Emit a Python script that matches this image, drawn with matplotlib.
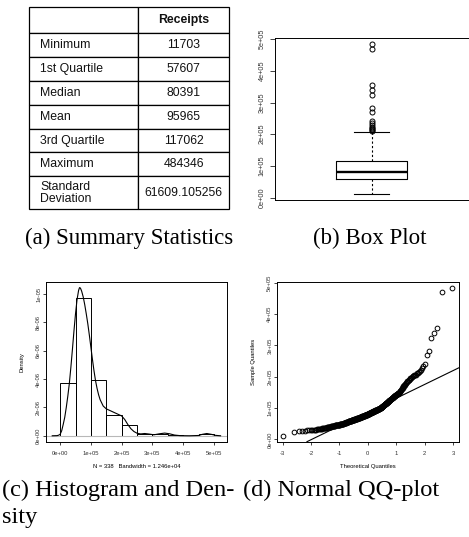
import numpy as np
import matplotlib
matplotlib.use("Agg")
import matplotlib.pyplot as plt
from matplotlib.table import Table
from statistics import NormalDist

plt.rcParams['font.family'] = ['Liberation Sans', 'DejaVu Sans']

# (a) summary table
stat_names = ["Minimum", "1st Quartile", "Median", "Mean", "3rd Quartile",
              "Maximum", "Standard\nDeviation"]
stat_values = ["11703", "57607", "80391", "95965", "117062", "484346",
               "61609.105256"]
q1, median, q3 = 57607, 80391, 117062
minimum = 11703
whisker_hi = 206000   # upper whisker end

receipts_k = [
    11.703, 24.6, 26.5, 27.5, 28.3, 29.0, 29.5, 30.0, 30.4, 30.8, 31.2, 31.5,
    32.0, 32.5, 33.0, 33.5, 34.0, 34.5, 35.0, 35.5, 36.0, 36.5, 37.0,
    37.4, 37.8, 38.2, 38.6, 39.0, 39.4, 39.8, 40.2, 40.6, 41.0, 41.4, 41.8,
    42.2, 42.6, 43.0, 43.4, 43.8,
    44.1, 44.4, 44.6, 44.9, 45.1, 45.4, 45.6, 45.9, 46.1, 46.4, 46.6, 46.9,
    47.1, 47.4, 47.6, 47.9, 48.1, 48.4, 48.6, 48.9, 49.1, 49.4, 49.8,
    50.1, 50.4, 50.8, 51.1, 51.5, 51.8, 52.2, 52.5, 52.9, 53.2, 53.6, 53.9,
    54.3, 54.6, 55.0, 55.3, 55.7, 56.0, 56.4, 56.7, 57.1, 57.5,
    57.9, 58.2, 58.4, 58.7, 59.0, 59.2, 59.5, 59.8, 60.0, 60.3,
    60.6, 60.9, 61.1, 61.4, 61.7, 61.9, 62.2, 62.5, 62.7, 63.0,
    63.3, 63.5, 63.8, 64.1, 64.3, 64.6, 64.9, 65.2, 65.4, 65.7,
    66.0, 66.2, 66.5, 66.8, 67.0, 67.3, 67.6, 67.8, 68.1, 68.4,
    68.6, 68.9, 69.2, 69.5, 69.7, 70.0, 70.3, 70.5, 70.8, 71.1,
    71.3, 71.6, 71.9, 72.1, 72.4, 72.7, 73.0, 73.2, 73.5, 73.8,
    74.0, 74.3, 74.6, 74.8, 75.1, 75.4, 75.6, 75.9, 76.2, 76.4,
    76.7, 77.0, 77.3, 77.5, 77.8, 78.1, 78.3, 78.6, 78.9, 79.1,
    79.4, 79.7, 79.9, 80.2,
    80.6, 80.9, 81.3, 81.6, 81.9, 82.3, 82.6, 83.0, 83.3, 83.6,
    84.0, 84.3, 84.6, 85.0, 85.3, 85.7, 86.0, 86.3, 86.7, 87.0,
    87.4, 87.7, 88.0, 88.4, 88.7, 89.0, 89.4, 89.7, 90.1, 90.4,
    90.7, 91.1, 91.4, 91.7, 92.1, 92.4, 92.8, 93.1, 93.4, 93.8,
    94.1, 94.5, 94.8, 95.1, 95.5, 95.8, 96.1, 96.5, 96.8, 97.2,
    97.5, 97.8, 98.2, 98.5, 98.8, 99.2, 99.5, 99.8,
    100.2, 100.9, 101.5, 102.2, 102.9, 103.5, 104.2, 104.9, 105.5, 106.2,
    106.8, 107.5, 108.2, 108.8, 109.5, 110.2, 110.8, 111.5, 112.2, 112.8,
    113.5, 114.1, 114.8, 115.5, 116.1, 116.8,
    117.2, 118.0, 118.9, 119.7, 120.5, 121.3, 122.2, 123.0, 123.8, 124.7,
    125.5, 126.3, 127.1, 128.0, 128.8, 129.6, 130.4, 131.3, 132.1, 132.9,
    133.8, 134.6, 135.4, 136.2, 137.1, 137.9, 138.7, 139.6, 140.4, 141.2,
    142.0, 142.9, 143.7, 144.5, 145.3, 146.2, 147.0, 147.8, 148.7, 149.5,
    151.0, 153.0, 155.0, 157.0, 159.0, 161.0, 163.0, 165.0, 167.0, 169.0,
    171.0, 173.0, 175.0, 177.0, 179.0, 181.0, 183.0, 185.0, 187.0, 189.0,
    191.0, 193.0, 195.0, 197.0, 199.0,
    201.5, 203.0, 204.0, 205.0, 206.0, 210.5, 213.0, 216.0, 219.0, 223.0,
    228.0, 234.0, 240.5,
    269.0, 282.0, 323.0, 340.0, 356.0, 469.0, 484.346,
]
hist_edges = [0, 50000, 100000, 150000, 200000, 250000, 300000, 350000,
              400000, 450000, 500000]

# kernel density curve: x in thousands, y in 1e-6
density_x_k = [-25.7, -10, -5, 0, 5, 10, 15, 20, 25, 30, 35, 40, 45, 50, 55,
               60, 63, 66, 70, 75, 80, 85, 90, 95, 100, 105, 110, 115, 120,
               125, 130, 140, 150, 160, 170, 180, 190, 200, 210, 220, 230,
               240, 250, 262, 275, 290, 305, 323, 340, 356, 372, 390, 420,
               450, 462, 477, 492, 505, 521.7]
density_y_u = [0.0, 0.01, 0.04, 0.1, 0.35, 0.8, 1.3, 2.0, 2.8, 3.7, 4.85, 6.1,
               7.4, 8.6, 9.6, 10.25, 10.45, 10.42, 10.2, 9.8, 9.25, 8.6, 7.9,
               7.1, 6.25, 5.4, 4.6, 3.9, 3.35, 2.9, 2.55, 2.1, 1.9, 1.8, 1.7,
               1.6, 1.5, 1.4, 1.15, 0.8, 0.5, 0.3, 0.18, 0.13, 0.16, 0.12,
               0.07, 0.14, 0.19, 0.14, 0.05, 0.01, 0.0, 0.02, 0.1, 0.16, 0.1,
               0.03, 0.0]

e5_ticks = [0, 100000, 200000, 300000, 400000, 500000]
e5_labels = ["0e+00", "1e+05", "2e+05", "3e+05", "4e+05", "5e+05"]
dens_ticks = [0, 2e-6, 4e-6, 6e-6, 8e-6, 1e-5]
dens_labels = ["0e+00", "2e-06", "4e-06", "6e-06", "8e-06", "1e-05"]
qq_ticks = [-3, -2, -1, 0, 1, 2, 3]

receipts = np.array(receipts_k) * 1000
n = len(receipts)

W, H = 469, 537
fig = plt.figure(figsize=(W / 100, H / 100), dpi=100)


def px_box(x0, y0, x1, y1):
    return [x0 / W, 1 - y1 / H, (x1 - x0) / W, (y1 - y0) / H]


def r_axes(ax, fs, ypad, xpad, tlen):
    for s in ax.spines.values():
        s.set_linewidth(0.7)
    ax.tick_params(length=tlen, width=0.6, labelsize=fs, color='#222222',
                   labelcolor='#333333')
    ax.tick_params(axis='y', pad=ypad)
    ax.tick_params(axis='x', pad=xpad)


# ---- (a) table ----
ax_t = fig.add_axes(px_box(29.3, 7.3, 229.3, 209.3))
ax_t.axis('off')
tbl = Table(ax_t, bbox=[0, 0, 1, 1])
col_w = [109, 91]
row_h = [26] + [23.8] * 6 + [33]
header = ["", "Receipts"]
for c in range(2):
    tbl.add_cell(0, c, width=col_w[c], height=row_h[0], text=header[c],
                 loc='center', edgecolor='black')
for r, (name, val) in enumerate(zip(stat_names, stat_values), start=1):
    tbl.add_cell(r, 0, width=col_w[0], height=row_h[r], text=name,
                 loc='left', edgecolor='black')
    tbl.add_cell(r, 1, width=col_w[1], height=row_h[r], text=val,
                 loc='center', edgecolor='black')
tbl.auto_set_font_size(False)
tbl.set_fontsize(8.8)
for cell in tbl.get_celld().values():
    cell.set_linewidth(0.9)
    cell.get_text().set_linespacing(1.0)
    cell.get_text().set_color('#111111')
tbl[0, 1].get_text().set_fontweight('bold')
ax_t.add_table(tbl)

# ---- (b) box plot ----
axb = fig.add_axes(px_box(275, 38, 468.5, 200))
fliers = receipts[receipts > whisker_hi]
axb.bxp([dict(med=median, q1=q1, q3=q3, whislo=minimum, whishi=whisker_hi,
              fliers=fliers)],
        positions=[1], widths=[0.365], showfliers=True,
        boxprops=dict(color='black', lw=0.8),
        medianprops=dict(color='black', lw=1.7),
        whiskerprops=dict(color='black', lw=0.8, linestyle=(0, (2, 2))),
        capprops=dict(color='black', lw=0.8),
        flierprops=dict(marker='o', mfc='none', mec='black', ms=3.6, mew=0.7))
axb.set_xlim(0.5, 1.5)
axb.set_ylim(-7203, 503252)
axb.set_xticks([])
axb.set_yticks(e5_ticks, e5_labels)
r_axes(axb, 5.3, 3.0, 3, 3.6)
plt.setp(axb.get_yticklabels(), rotation=90, va='center')

# ---- (c) histogram and density ----
axh = fig.add_axes(px_box(45.5, 281.7, 227.3, 441.7))
axh.axhline(0, color='#b8b8b8', lw=0.8)
axh.hist(receipts, bins=hist_edges, density=True, fill=False,
         edgecolor='black', lw=0.7)
axh.plot(np.array(density_x_k) * 1000, np.array(density_y_u) * 1e-6,
         color='black', lw=0.8)
axh.set_xlim(-47573, 543622)
axh.set_ylim(-4.18e-7, 1.0868e-5)
axh.set_xticks(e5_ticks, e5_labels)
axh.set_yticks(dens_ticks, dens_labels)
r_axes(axh, 4.2, 0.8, 4.4, 2.4)
plt.setp(axh.get_yticklabels(), rotation=90, va='center')
axh.set_ylabel("Density", fontsize=4.2, labelpad=8)
axh.set_xlabel("N = 338   Bandwidth = 1.246e+04", fontsize=4.2, labelpad=6)

# ---- (d) normal QQ plot ----
axq = fig.add_axes(px_box(276.7, 281.7, 459, 441.7))
nd = NormalDist()
theo = [nd.inv_cdf((i - 0.5) / n) for i in range(1, n + 1)]
axq.plot(theo, np.sort(receipts), 'o', mfc='none', mec='black', ms=3.4,
         mew=0.7)
axq.axline((nd.inv_cdf(0.25), q1), (nd.inv_cdf(0.75), q3), color='black',
           lw=0.8)
axq.set_xlim(-3.21, 3.21)
axq.set_ylim(-7203, 503252)
axq.set_xticks(qq_ticks, [str(t) for t in qq_ticks])
axq.set_yticks(e5_ticks, e5_labels)
r_axes(axq, 4.2, 0.8, 4.4, 2.4)
plt.setp(axq.get_yticklabels(), rotation=90, va='center')
axq.set_ylabel("Sample Quantiles", fontsize=4.2, labelpad=8)
axq.set_xlabel("Theoretical Quantiles", fontsize=4.2, labelpad=6)

# ---- captions ----
cap = dict(family='Liberation Serif', va='center')
fig.text(129 / W, 1 - 238 / H, "(a) Summary Statistics", ha='center',
         size=16.5, **cap)
fig.text(370 / W, 1 - 238 / H, "(b) Box Plot", ha='center', size=16.5, **cap)
fig.text(2 / W, 1 - 490 / H, "(c) Histogram and Den-", ha='left', size=17.6,
         **cap)
fig.text(2 / W, 1 - 518 / H, "sity", ha='left', size=17.6, **cap)
fig.text(243 / W, 1 - 490 / H, "(d) Normal QQ-plot", ha='left', size=17.6,
         **cap)

fig.savefig("out.png", dpi=100)
